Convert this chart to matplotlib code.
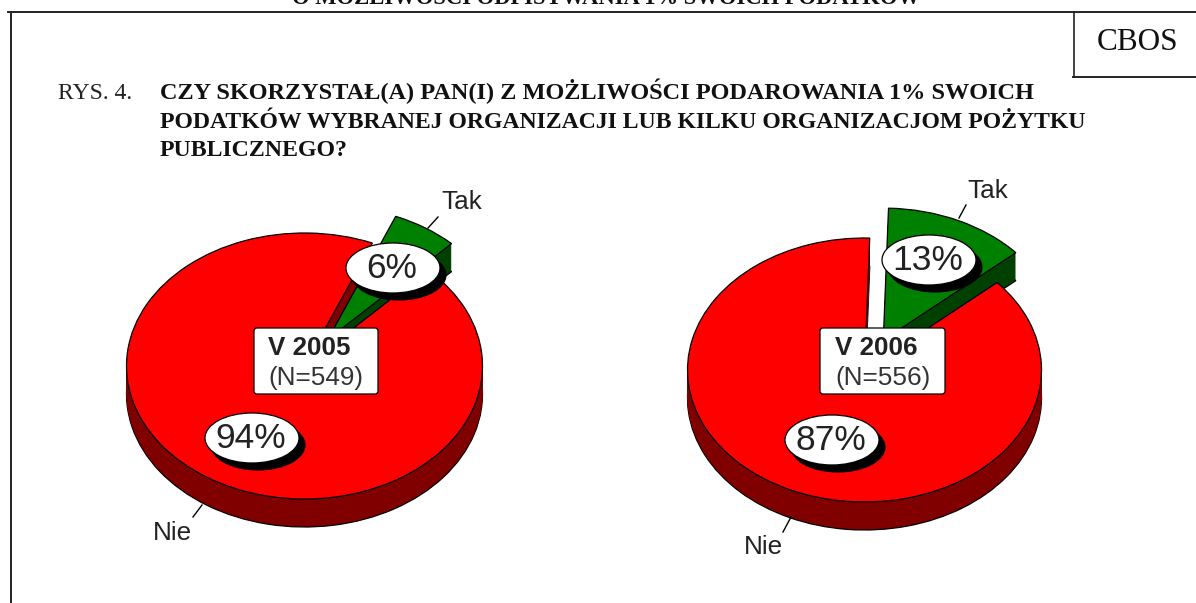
import matplotlib
matplotlib.use("Agg")
import matplotlib.pyplot as plt
from matplotlib.patches import Ellipse, FancyBboxPatch

W, H = 1196, 603

# Data
categories = ["Tak", "Nie"]
values_2005 = [6, 94]
values_2006 = [13, 87]
waves = ["V 2005", "V 2006"]
sample_sizes = ["(N=549)", "(N=556)"]
title_lines = [
    "CZY SKORZYSTAŁ(A) PAN(I) Z MOŻLIWOŚCI PODAROWANIA 1% SWOICH",
    "PODATKÓW WYBRANEJ ORGANIZACJI LUB KILKU ORGANIZACJOM POŻYTKU",
    "PUBLICZNEGO?",
]
figure_label = "RYS. 4."
source_label = "CBOS"
cut_heading = "O MOŻLIWOŚCI ODPISYWANIA 1% SWOICH PODATKÓW"

RED, DARK_RED = "#ff0000", "#800000"
GREEN, DARK_GREEN = "#008000", "#004000"
SANS = "Liberation Sans"
SERIF = "Liberation Serif"

fig = plt.figure(figsize=(W / 100, H / 100), dpi=100, facecolor="white")


def draw_pie(values, cx, cy, rx, ry, depth, start, explode):
    span = 1.6
    ax = fig.add_axes([(cx - span * rx) / W, 1 - (cy + span * ry) / H,
                       2 * span * rx / W, 2 * span * ry / H])
    ax.patch.set_alpha(0)

    def layer(offset, idx, color, lw):
        wedges, _ = ax.pie(values, startangle=start, radius=1, explode=[explode, 0],
                           center=(0, -offset / ry), colors=[color, color], frame=True,
                           wedgeprops=dict(edgecolor="black", linewidth=lw))
        wedges[1 - idx].set_visible(False)

    # side walls: Nie, then Tak, then the Tak top, then the Nie top
    for idx, dark in ((1, DARK_RED), (0, DARK_GREEN)):
        layer(depth, idx, dark, 0.9)
        for d in range(depth - 1, 0, -1):
            layer(d, idx, dark, 0)
    layer(0, 0, GREEN, 0.9)
    layer(0, 1, RED, 0.9)
    ax.set_aspect("auto")
    ax.set_xlim(-span, span)
    ax.set_ylim(-span, span)
    ax.axis("off")


draw_pie(values_2005, 304.5, 366, 178, 133, 28, 46, 0.24)
draw_pie(values_2006, 864.5, 370, 177, 132, 28, 41.5, 0.25)

ov = fig.add_axes([0, 0, 1, 1], zorder=10)
ov.set_xlim(0, W)
ov.set_ylim(H, 0)
ov.axis("off")
ov.patch.set_alpha(0)

# Page frame
ov.plot([8, W], [12, 12], color="#222222", lw=1.4)
ov.plot([10.5, 10.5], [12, H], color="#222222", lw=1.4)
ov.plot([1074, 1074], [12, 77], color="#222222", lw=1.2)
ov.plot([1073, W], [76.5, 76.5], color="#222222", lw=1.4)

ov.text(1138, 50, source_label, family=SERIF, fontsize=22.5, ha="center", va="baseline", color="#111111")
ov.text(58, 99, figure_label, family=SERIF, fontsize=17, ha="left", va="baseline", color="#222222")
for line, y, size in zip(title_lines, [99, 128, 156], [17.5, 17.15, 17.2]):
    ov.text(160, y, line, family=SERIF, weight="bold", fontsize=size, ha="left", va="baseline", color="#111111")
ov.text(606, 3.5, cut_heading, family=SERIF, weight="bold", fontsize=16.3, ha="center", va="baseline", color="#111111")


def pct_label(value, x, y):
    ov.add_patch(Ellipse((x + 6, y + 7), 94, 50, fc="black", ec="black", lw=0.8))
    ov.add_patch(Ellipse((x, y), 94, 50, fc="white", ec="black", lw=0.9))
    ov.text(x - 1, y + 1, f"{value}%", family=SANS, fontsize=25.5, ha="center", va="center", color="#222222")


def info_box(x0, x1, y0, y1, wave, n, tx):
    ov.add_patch(FancyBboxPatch((x0 + 2, y0 + 2), x1 - x0 - 4, y1 - y0 - 4,
                                boxstyle="round,pad=2,rounding_size=3",
                                fc="white", ec="black", lw=0.9))
    ov.text(tx, 348, wave, family=SANS, weight="bold", fontsize=18.7, ha="left", va="center", color="#222222")
    ov.text(tx, 378, n, family=SANS, fontsize=18.8, ha="left", va="center", color="#333333")


def cat_label(name, tx, ty, p0, p1):
    ov.plot([p0[0], p1[0]], [p0[1], p1[1]], color="black", lw=1)
    ov.text(tx, ty, name, family=SANS, fontsize=18.8, ha="center", va="center", color="#222222")


pct_label(values_2005[0], 393, 268)
pct_label(values_2005[1], 252, 438)
pct_label(values_2006[0], 929, 260)
pct_label(values_2006[1], 832, 440)
info_box(254, 378, 328, 394, waves[0], sample_sizes[0], 268)
info_box(820, 945, 328, 394, waves[1], sample_sizes[1], 835)
cat_label(categories[0], 462, 202, (428, 228), (438, 217))
cat_label(categories[1], 172, 533, (193, 517), (202, 505))
cat_label(categories[0], 988, 191, (959, 218), (966, 205))
cat_label(categories[1], 763, 547, (783, 532), (791, 517))

fig.savefig("out.png", dpi=100)
